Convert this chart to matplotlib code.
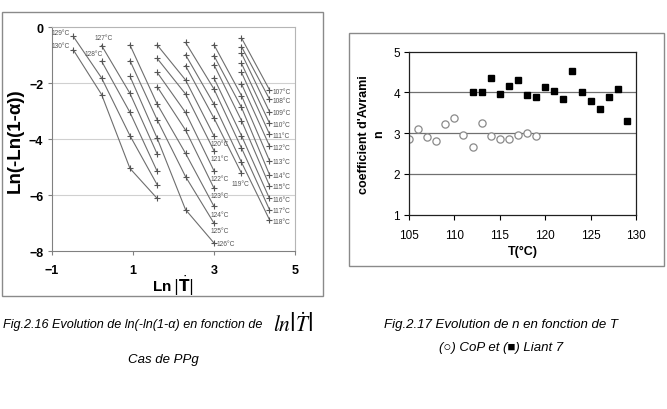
import matplotlib
matplotlib.use("Agg")
import matplotlib.pyplot as plt
from matplotlib.patches import Rectangle

plt.rcParams['font.family'] = ['Liberation Sans', 'DejaVu Sans']

# ---- left chart data (Ozawa plot) ----
ln_rate = [-0.47, 0.23, 0.93, 1.60, 2.30, 3.00, 3.68, 4.37]
temps_left = [107, 108, 109, 110, 111, 112, 113, 114, 115, 116, 117, 118,
              119, 120, 121, 122, 123, 124, 125, 126, 127, 128, 129, 130]
first_col = [6, 6, 6, 6, 6, 6, 5, 5, 5, 5, 4, 4,
             4, 3, 3, 3, 3, 2, 2, 2, 1, 1, 0, 0]
ln_alpha = [
    [-0.38, -2.23],
    [-0.69, -2.56],
    [-0.93, -3.01],
    [-1.29, -3.42],
    [-1.61, -3.81],
    [-2.02, -4.23],
    [-0.62, -2.44, -4.76],
    [-1.01, -2.86, -5.26],
    [-1.33, -3.33, -5.65],
    [-1.81, -3.87, -6.11],
    [-0.54, -2.20, -4.31, -6.51],
    [-0.98, -2.74, -4.82, -6.87],
    [-1.37, -3.24, -5.21],
    [-0.63, -1.88, -3.87],
    [-1.11, -2.38, -4.40],
    [-1.61, -3.04, -5.12],
    [-2.12, -3.67, -5.74],
    [-0.63, -2.74, -4.50, -6.39],
    [-1.19, -3.30, -5.33, -6.99],
    [-1.75, -3.96, -6.51, -7.70],
    [-0.65, -2.36, -4.52],
    [-1.21, -3.04, -5.14],
    [-0.32, -1.81, -3.87, -5.62],
    [-0.80, -2.40, -5.04, -6.11],
]

# ---- right chart data (Avrami exponent) ----
t_cop = [105, 106, 107, 108, 109, 110, 111, 112, 113, 114, 115, 116, 117, 118, 119]
n_cop = [2.86, 3.10, 2.90, 2.82, 3.22, 3.37, 2.96, 2.67, 3.25, 2.94, 2.86, 2.86, 2.96, 3.00, 2.92]
t_liant = [112, 113, 114, 115, 116, 117, 118, 119, 120, 121, 122, 123, 124, 125, 126, 127, 128, 129]
n_liant = [4.00, 4.00, 4.35, 3.95, 4.15, 4.30, 3.94, 3.90, 4.14, 4.03, 3.84, 4.53, 4.00, 3.80, 3.60, 3.90, 4.09, 3.30]

W, H = 667, 410
fig = plt.figure(figsize=(W / 100, H / 100), dpi=100)


def fx(px):
    return px / W


def fy(py):
    return 1 - py / H


# outer frames
fig.add_artist(Rectangle((fx(2), fy(297)), fx(321), 284 / H, transform=fig.transFigure,
                         fill=False, edgecolor='#8a8a8a', linewidth=1.0))
fig.add_artist(Rectangle((fx(349), fy(267)), fx(315), 233 / H, transform=fig.transFigure,
                         fill=False, edgecolor='#8a8a8a', linewidth=1.0))

# ---------------- left chart ----------------
ax1 = fig.add_axes([fx(51.7), fy(252.3), fx(243.3), 224 / H])
for t, c0, ys in zip(temps_left, first_col, ln_alpha):
    xs = ln_rate[c0:c0 + len(ys)]
    ax1.plot(xs, ys, color='#6e6e6e', linewidth=0.8, marker='+',
             markersize=3.8, markeredgewidth=0.8, markeredgecolor='#555555')

# label placement (dx, dy, ha, which end)
lab_pos = {}
for t in range(107, 119):
    lab_pos[t] = (0.07, -0.05, 'left', -1)
lab_pos[119] = (-0.02, -0.36, 'center', -1)
for t in range(120, 126):
    lab_pos[t] = (-0.08, -0.28, 'left', -1)
lab_pos[126] = (0.07, -0.02, 'left', -1)
lab_pos[127] = (0.04, 0.29, 'center', 0)
lab_pos[128] = (0.04, 0.28, 'right', 0)
lab_pos[129] = (-0.08, 0.14, 'right', 0)
lab_pos[130] = (-0.08, 0.15, 'right', 0)

for t, c0, ys in zip(temps_left, first_col, ln_alpha):
    xs = ln_rate[c0:c0 + len(ys)]
    dx, dy, ha, k = lab_pos[t]
    ax1.text(xs[k] + dx, ys[k] + dy, f'{t}°C', fontsize=4.8, color='#555555',
             ha=ha, va='center')

ax1.set_xlim(-1, 5)
ax1.set_ylim(-8, 0)
ax1.set_xticks([-1, 1, 3, 5])
ax1.set_yticks([0, -2, -4, -6, -8])
for yv in [-2, -4, -6]:
    ax1.axhline(yv, color='#d0d0d0', linewidth=0.8, zorder=0)
for s in ['top', 'right']:
    ax1.spines[s].set_color('#b5b5b5')
for s in ['left', 'bottom']:
    ax1.spines[s].set_color('#808080')
ax1.tick_params(axis='both', colors='#808080', labelcolor='black', length=3,
                labelsize=9)
ax1.tick_params(axis='x', pad=6)
ax1.tick_params(axis='y', pad=3)
for lab in ax1.get_xticklabels() + ax1.get_yticklabels():
    lab.set_fontweight('bold')
ax1.set_ylabel('Ln(-Ln(1-α))', fontsize=13.5, fontweight='bold', labelpad=4)
ax1.set_xlabel(r'Ln$\,|\dot{\mathbf{T}}|$', fontsize=11, fontweight='bold', labelpad=-3,
               math_fontfamily='dejavusans')

# ---------------- right chart ----------------
ax2 = fig.add_axes([fx(409), fy(215.7), fx(227), 163 / H])
for yv in [2, 3, 4]:
    ax2.axhline(yv, color='#707070', linewidth=0.9, zorder=0)
ax2.plot(t_cop, n_cop, linestyle='none', marker='o', markersize=5.2,
         markerfacecolor='white', markeredgecolor='#8a8a8a', markeredgewidth=0.9)
ax2.plot(t_liant, n_liant, linestyle='none', marker='s', markersize=5,
         markerfacecolor='black', markeredgecolor='black')
ax2.set_xlim(105, 130)
ax2.set_ylim(1, 5)
ax2.set_xticks([105, 110, 115, 120, 125, 130])
ax2.set_yticks([1, 2, 3, 4, 5])
for s in ax2.spines.values():
    s.set_color('#202020')
    s.set_linewidth(0.9)
ax2.tick_params(axis='both', length=3.5, labelsize=8.5)
ax2.tick_params(axis='x', pad=7)
ax2.tick_params(axis='y', pad=3)
ax2.set_ylabel("coefficient d'Avrami\nn", fontsize=9, fontweight='bold', labelpad=6,
               linespacing=1.3)
ax2.set_xlabel('T(°C)', fontsize=9, fontweight='bold', labelpad=3)

# ---------------- captions ----------------
fig.text(fx(3), fy(325), 'Fig.2.16 Evolution de ln(-ln(1-α) en fonction de',
         fontsize=9.1, style='italic', ha='left', va='center')
fig.text(fx(273), fy(325), r'$ln\left|\dot{T}\right|$', fontsize=15.5,
         ha='left', va='center', math_fontfamily='stix')
fig.text(fx(163), fy(360), 'Cas de PPg', fontsize=9.5, style='italic',
         ha='center', va='center')
fig.text(fx(501), fy(325), 'Fig.2.17 Evolution de n en fonction de T',
         fontsize=9.5, style='italic', ha='center', va='center')
fig.text(fx(501), fy(348), '(○) CoP et (■) Liant 7', fontsize=9.5, style='italic',
         ha='center', va='center')

fig.savefig('out.png', dpi=100)
